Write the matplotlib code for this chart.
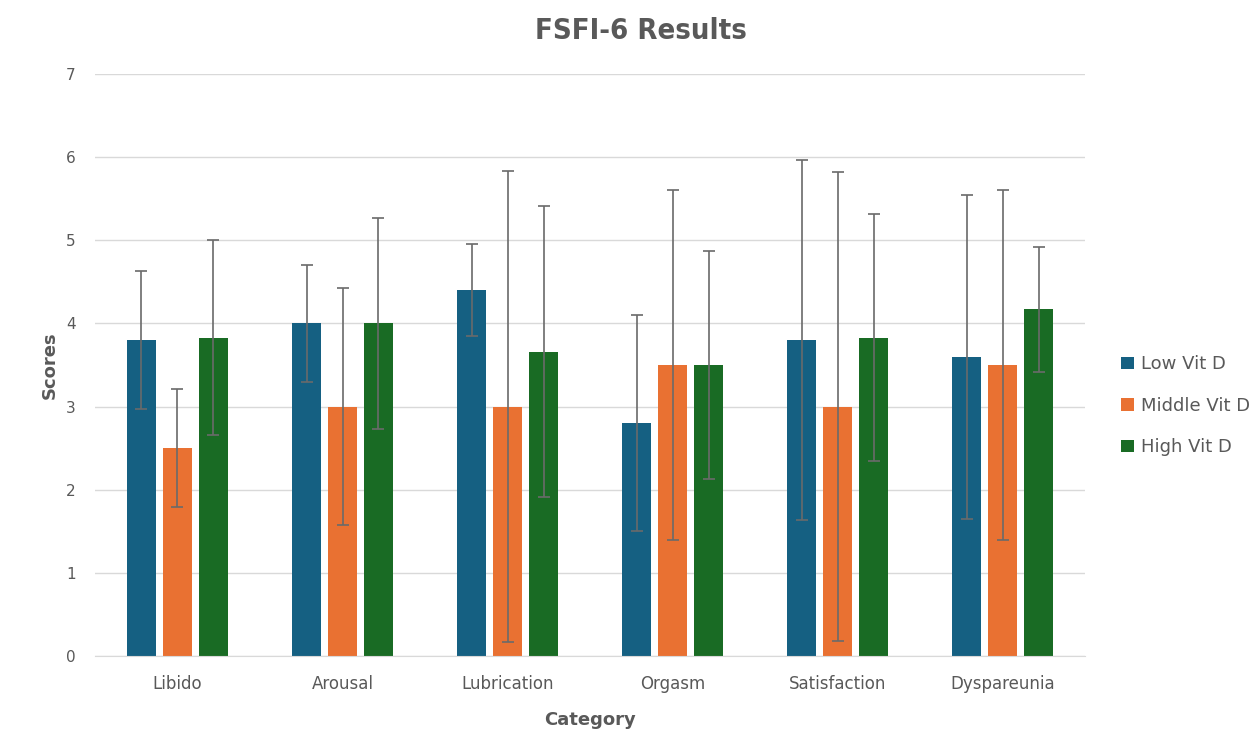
"""Recreate the FSFI-6 results grouped bar chart."""

import numpy as np
import matplotlib.pyplot as plt

categories = ["Libido", "Arousal", "Lubrication", "Orgasm", "Satisfaction", "Dyspareunia"]
series_names = ["Low Vit D", "Middle Vit D", "High Vit D"]

low_vals = [3.80, 4.00, 4.40, 2.80, 3.80, 3.60]
low_err = [0.83, 0.70, 0.55, 1.30, 2.16, 1.95]
mid_vals = [2.50, 3.00, 3.00, 3.50, 3.00, 3.50]
mid_err = [0.71, 1.42, 2.83, 2.11, 2.82, 2.11]
high_vals = [3.83, 4.00, 3.66, 3.50, 3.83, 4.17]
high_err = [1.17, 1.27, 1.75, 1.37, 1.48, 0.75]

colors = ["#156082", "#E97132", "#196B24"]
text_gray = "#595959"

fig = plt.figure(figsize=(12.56, 7.45), dpi=100)
ax = fig.add_axes([0.0756, 0.1195, 0.7884, 0.7812])

x = np.arange(len(categories))
width = 0.176
step = 0.218
for i, (vals, errs) in enumerate(
    [(low_vals, low_err), (mid_vals, mid_err), (high_vals, high_err)]
):
    ax.bar(
        x + (i - 1) * step, vals, width,
        color=colors[i], label=series_names[i], zorder=2,
        yerr=errs, capsize=4.5,
        error_kw=dict(ecolor="#6a6a6a", elinewidth=1.2, capthick=1.2, zorder=3),
    )

ax.set_xlim(-0.5, len(categories) - 0.5)
ax.set_ylim(0, 7)
ax.set_yticks(range(0, 8))
ax.set_xticks(x)
ax.set_xticklabels(categories)
ax.grid(axis="y", color="#d9d9d9", linewidth=1, zorder=0)
ax.set_axisbelow(True)
for side in ["top", "right", "left"]:
    ax.spines[side].set_visible(False)
ax.spines["bottom"].set_color("#d9d9d9")
ax.tick_params(axis="both", length=0, colors=text_gray, labelsize=12)
ax.tick_params(axis="y", pad=14, labelsize=11)
ax.tick_params(axis="x", pad=14)

ax.set_xlabel("Category", fontsize=13, fontweight="bold", color=text_gray, labelpad=13)
ax.set_ylabel("Scores", fontsize=13, fontweight="bold", color=text_gray, labelpad=5)

# condensed bold title, close to the narrow face of the original
fig.text(0.51, 0.958, "FSFI-6 Results", ha="center", va="center",
         fontsize=21, fontweight="bold", fontstretch="condensed",
         color=text_gray, family="DejaVu Sans")

ax.legend(
    loc="center left", bbox_to_anchor=(1.02, 0.43), frameon=False,
    fontsize=13, labelcolor=text_gray, handlelength=0.7, handleheight=0.7,
    handletextpad=0.4, labelspacing=1.3,
)

fig.savefig("out.png", dpi=100)
